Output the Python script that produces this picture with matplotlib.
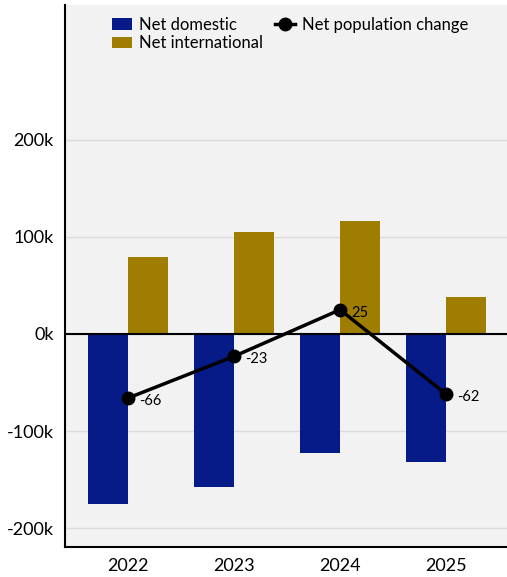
import numpy as np
import matplotlib
matplotlib.use('Agg')
import matplotlib.pyplot as plt
from matplotlib.ticker import FuncFormatter

years = ['2022', '2023', '2024', '2025']
net_domestic = [-175, -158, -123, -132]        # thousands
net_international = [79, 105, 116, 38]         # thousands
net_change = [-66, -23, 25, -62]               # thousands

plt.rcParams['font.family'] = ['Lato', 'DejaVu Sans']

fig = plt.figure(figsize=(5.07, 5.77), dpi=100)
ax = fig.add_axes([0.1282, 0.052, 0.8718, 0.9393])
ax.set_facecolor('#f2f2f2')

x = np.arange(len(years))
w = 0.377
bd = ax.bar(x - w/2, net_domestic, width=w, color='#061b87', zorder=2)
bi = ax.bar(x + w/2, net_international, width=w, color='#9e7d00', zorder=2)
ln, = ax.plot(x, net_change, color='black', lw=2.5, marker='o', ms=9, zorder=4)

for xi, v in zip(x, net_change):
    ax.annotate(str(v), (xi, v), xytext=(8, -2), textcoords='offset points',
                fontsize=10.5, va='center', ha='left', zorder=5)

ax.axhline(0, color='black', lw=1.5, zorder=3)
ax.set_yticks([-200, -100, 0, 100, 200])
ax.yaxis.set_major_formatter(FuncFormatter(lambda v, p: '%dk' % v))
ax.set_ylim(-219.5, 339)
ax.set_xlim(-0.595, 3.575)
ax.set_xticks(x)
ax.set_xticklabels(years)
ax.grid(axis='y', color='#dcdcdc', lw=1, zorder=0)
ax.tick_params(axis='both', length=0, labelsize=13, pad=8)
for s in ['top', 'right']:
    ax.spines[s].set_visible(False)
for s in ['left', 'bottom']:
    ax.spines[s].set_linewidth(1.5)
    ax.spines[s].set_color('black')

ax.legend([bd, bi, ln], ['Net domestic', 'Net international', 'Net population change'],
          ncol=2, frameon=False, loc='upper left', bbox_to_anchor=(0.08, 1.0),
          fontsize=12, handlelength=1.2, handletextpad=0.4, columnspacing=0.75,
          labelspacing=0.15, borderaxespad=0.3)

fig.savefig('out.png', dpi=100)
